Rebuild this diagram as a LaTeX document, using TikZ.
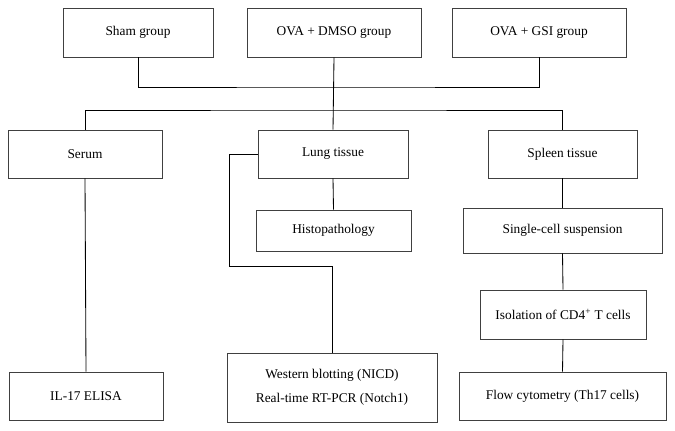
\documentclass[tikz,border=0pt]{standalone}
\usepackage{fontspec}
\setmainfont{Liberation Serif}
\usetikzlibrary{positioning}

\begin{document}
\begin{tikzpicture}[x=0.025cm, y=-0.025cm, box/.style={draw=black!75, line width=0.6pt, fill=white, inner sep=2pt, align=center, font=\fontsize{9.5}{14}\selectfont}, link/.style={draw=black, line width=0.6pt}]
	\useasboundingbox (0,0) rectangle (675,430);

	\node[box, minimum width=3.75cm, minimum height=1.225cm] (sham) at (138,32.5) {Sham group};
	\node[box, minimum width=4.35cm, minimum height=1.225cm] (dmso) at (334,32.5) {OVA + DMSO group};
	\node[box, minimum width=4.35cm, minimum height=1.225cm] (gsi) at (539,32.5) {OVA + GSI group};

	\node[box, minimum width=3.85cm, minimum height=1.2cm] (serum) at (85,154) {Serum};
	\node[box, minimum width=3.75cm, minimum height=1.2cm] (lung) at (333,154) {Lung tissue};
	\node[box, minimum width=3.725cm, minimum height=1.2cm] (spleen) at (562.5,154) {Spleen tissue};

	\node[box, minimum width=3.875cm, minimum height=1.025cm] (histo) at (333.5,230.5) {Histopathology};
	\node[box, minimum width=4.975cm, minimum height=1.125cm] (single) at (562.5,230.5) {Single-cell suspension};
	\node[box, minimum width=4.15cm, minimum height=1.225cm] (isol) at (563,314.5) {Isolation of CD4\textsuperscript{+} T cells};

	\node[box, minimum width=3.85cm, minimum height=1.2cm] (elisa) at (86,396) {IL-17 ELISA};
	\node[box, minimum width=5.25cm, minimum height=1.725cm] (western) at (332,387.5) {Western blotting (NICD)\\[3pt]Real-time RT-PCR (Notch1)};
	\node[box, minimum width=5.175cm, minimum height=1.2cm] (flow) at (562.5,396) {Flow cytometry (Th17 cells)};

	\coordinate (groups) at (333,87);
	\coordinate (samples) at (333,110);
	\coordinate (bend) at (229,266);

	\draw[link] (sham.south) |- (groups) -| (gsi.south);
	\draw[link] (dmso.south) -- (lung.north);
	\draw[link] (serum.north) |- (samples) -| (spleen.north);
	\draw[link] (serum.south) -- (elisa.north);
	\draw[link] (lung.south) -- (histo.north);
	\draw[link] (lung.west) -| (bend) -| (western.north);
	\draw[link] (spleen.south) -- (single.north);
	\draw[link] (single.south) -- (isol.north);
	\draw[link] (isol.south) -- (flow.north);
\end{tikzpicture}
\end{document}
